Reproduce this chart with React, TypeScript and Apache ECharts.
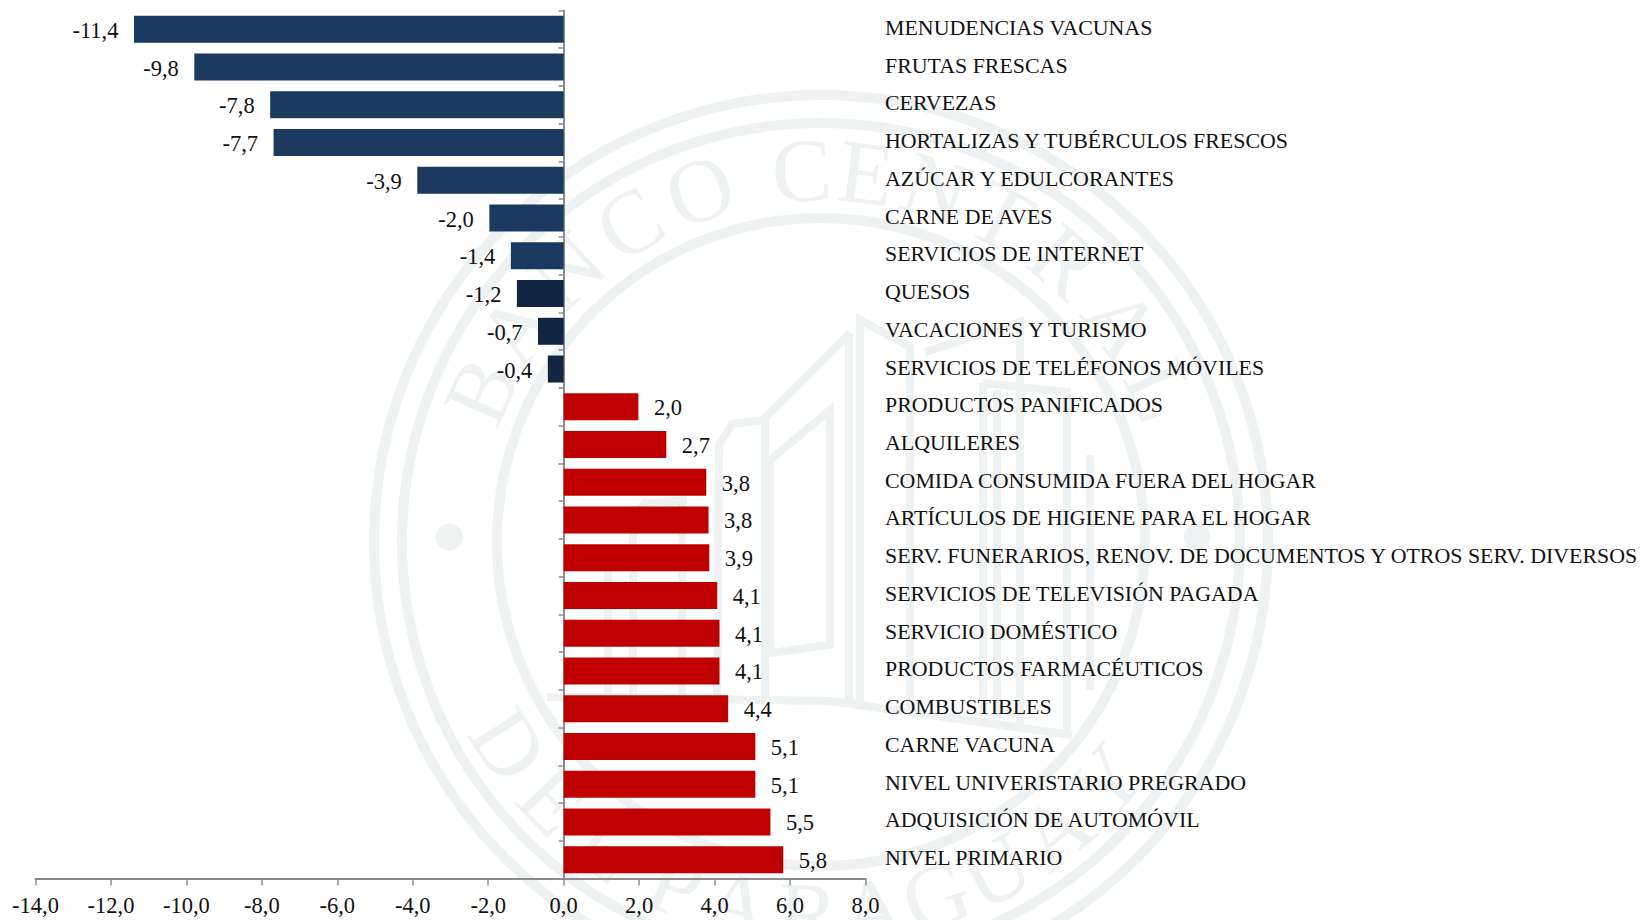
import React, { useEffect, useRef } from "react";
import * as echarts from "echarts";

const categories = [
  "MENUDENCIAS VACUNAS", "FRUTAS FRESCAS", "CERVEZAS", "HORTALIZAS Y TUBÉRCULOS FRESCOS",
  "AZÚCAR Y EDULCORANTES", "CARNE DE AVES", "SERVICIOS DE INTERNET", "QUESOS",
  "VACACIONES Y TURISMO", "SERVICIOS DE TELÉFONOS MÓVILES", "PRODUCTOS PANIFICADOS", "ALQUILERES",
  "COMIDA CONSUMIDA FUERA DEL HOGAR", "ARTÍCULOS DE HIGIENE PARA EL HOGAR",
  "SERV. FUNERARIOS, RENOV. DE DOCUMENTOS Y OTROS SERV. DIVERSOS", "SERVICIOS DE TELEVISIÓN PAGADA",
  "SERVICIO DOMÉSTICO", "PRODUCTOS FARMACÉUTICOS", "COMBUSTIBLES", "CARNE VACUNA",
  "NIVEL UNIVERISTARIO PREGRADO", "ADQUISICIÓN DE AUTOMÓVIL", "NIVEL PRIMARIO",
];
const values = [
  -11.39, -9.79, -7.78, -7.69, -3.88, -1.97, -1.4, -1.24, -0.68, -0.42,
  1.98, 2.72, 3.78, 3.84, 3.86, 4.07, 4.13, 4.13, 4.36, 5.08, 5.08, 5.48, 5.82,
];
const darkCategories = ["QUESOS", "VACACIONES Y TURISMO", "SERVICIOS DE TELÉFONOS MÓVILES"];
const xTicks = { min: -14, max: 8, interval: 2 };

const SERIF = "'Liberation Serif', serif";
const INK = "#111111";
const AXIS = "#8c8c8c";
const MARK = "#eef2f2";
const CX = 821;
const CY = 542;

const topLetters: [string, number][] = [
  ["B", -66], ["A", -55], ["N", -43], ["C", -31], ["O", -19], ["C", -3],
  ["E", 7], ["N", 18], ["T", 29], ["R", 41], ["A", 54], ["L", 66],
];
const bottomLetters: [string, number][] = [
  ["D", -57], ["E", -46], ["L", -35], ["P", -23], ["A", -13], ["R", -2],
  ["A", 8], ["G", 18], ["U", 28], ["A", 39], ["Y", 50],
];
const buildingLines: number[][][] = [
  [[850, 333], [765, 418], [765, 700]],
  [[849, 333], [849, 702]],
  [[765, 420], [732, 424], [719, 445], [717, 700]],
  [[770, 460], [830, 410], [830, 645], [770, 653], [770, 460]],
  [[860, 702], [860, 320], [910, 347], [910, 708]],
  [[608, 698], [608, 565]],
  [[633, 698], [633, 520], [645, 503], [687, 500]],
  [[682, 698], [682, 500]],
  [[547, 697], [830, 701], [1072, 735]],
  [[925, 352], [1020, 322], [1020, 725]],
  [[983, 383], [1067, 392], [1067, 735]],
  [[983, 383], [983, 716]],
  [[997, 390], [997, 718]],
  [[1090, 455], [1090, 690]],
];

function watermark(): any[] {
  const rings = [[442, 452], [414, 424], [319, 329]].map(([r0, r]) => ({
    type: "ring",
    silent: true,
    shape: { cx: CX, cy: CY, r0, r },
    style: { fill: MARK },
    z: -10,
  }));
  const letter = (ch: string, deg: number, top: boolean) => {
    const a = (deg * Math.PI) / 180;
    const R = 372;
    return {
      type: "text",
      silent: true,
      x: CX + R * Math.sin(a),
      y: top ? CY - R * Math.cos(a) : CY + R * Math.cos(a),
      rotation: top ? -a : a,
      style: {
        text: ch,
        fill: MARK,
        font: `90px ${SERIF}`,
        align: "center",
        verticalAlign: "middle",
      },
      z: -10,
    };
  };
  const letters = [
    ...topLetters.map(([c, d]) => letter(c, d, true)),
    ...bottomLetters.map(([c, d]) => letter(c, d, false)),
  ];
  const lines = buildingLines.map((points) => ({
    type: "polyline",
    silent: true,
    shape: { points },
    style: { stroke: MARK, lineWidth: 8, fill: "none" },
    z: -10,
  }));
  const dots = [449, 1197].map((cx) => ({
    type: "circle",
    silent: true,
    shape: { cx, cy: 537, r: 13.5 },
    style: { fill: MARK },
    z: -10,
  }));
  return [...rings, ...letters, ...lines, ...dots];
}

export default function App() {
  const ref = useRef<HTMLDivElement>(null);
  useEffect(() => {
    const chart = echarts.init(ref.current!, undefined, { renderer: "svg" });
    const fmt = (v: number) => v.toFixed(1).replace(".", ",");
    chart.setOption({
      animation: false,
      backgroundColor: "#ffffff",
      textStyle: { fontFamily: SERIF },
      grid: { left: 35.5, right: 774.5, top: 10.5, bottom: 41.5, containLabel: false, outerBoundsMode: "none" },
      graphic: { elements: watermark() },
      xAxis: {
        type: "value",
        ...xTicks,
        splitLine: { show: false },
        axisLine: { show: true, onZero: false, lineStyle: { color: AXIS, width: 2 } },
        axisTick: { show: true, length: 7, lineStyle: { color: AXIS, width: 1.5 } },
        axisLabel: { fontFamily: SERIF, fontSize: 22.5, color: INK, margin: 15.5, formatter: fmt },
      },
      yAxis: [
        {
          type: "category",
          inverse: true,
          data: categories,
          axisLine: { show: true, onZero: true, lineStyle: { color: AXIS, width: 2 } },
          axisTick: { show: true, length: 5, lineStyle: { color: AXIS, width: 1.5 } },
          axisLabel: { show: false },
          splitLine: { show: false },
        },
        {
          type: "category",
          inverse: true,
          position: "right",
          data: categories,
          axisLine: { show: false },
          axisTick: { show: false },
          splitLine: { show: false },
          axisLabel: {
            show: true,
            interval: 0,
            margin: 19.5,
            fontFamily: SERIF,
            fontSize: 21.9,
            color: INK,
            verticalAlign: "bottom",
            lineHeight: 4,
          },
        },
      ],
      series: [
        {
          type: "bar",
          yAxisIndex: 0,
          barWidth: 27,
          data: values.map((v, i) => ({
            value: v,
            itemStyle: {
              color: v > 0 ? "#c00000" : darkCategories.includes(categories[i]) ? "#122543" : "#1a3a60",
            },
            label: { position: v > 0 ? "right" : "left" },
          })),
          label: {
            show: true,
            distance: 15.5,
            fontFamily: SERIF,
            fontSize: 22.5,
            color: INK,
            offset: [0, 1],
            formatter: (p: any) => fmt(p.value),
          },
        },
      ],
    });
    return () => chart.dispose();
  }, []);
  return <div ref={ref} style={{ position: "fixed", left: 0, top: 0, width: 1640, height: 920 }} />;
}
